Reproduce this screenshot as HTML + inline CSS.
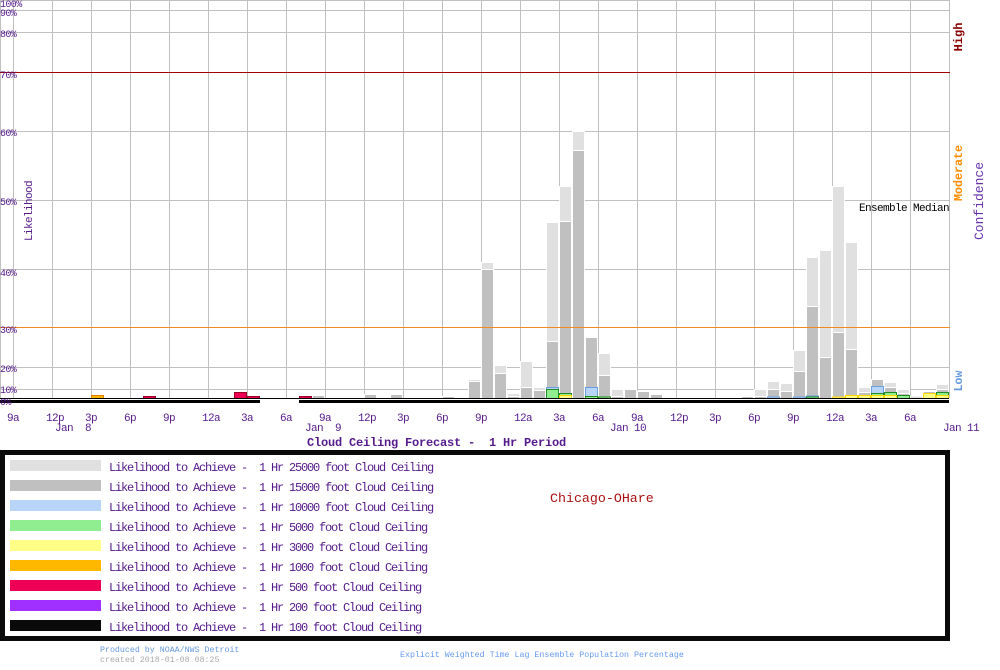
<!DOCTYPE html>
<html><head><meta charset="utf-8"><style>
html,body{margin:0;padding:0;background:#fff;}
svg{display:block;}
text{font-family:"Liberation Mono",monospace;white-space:pre;}
.L{fill:#e0e0e0;stroke:#fff;stroke-width:1}
.G{fill:#c0c0c0;stroke:#fff;stroke-width:1}
.B{fill:#b8d4f8;stroke:#6a9ee0;stroke-width:1}
.Gr{fill:#90ee90;stroke:#228b22;stroke-width:1}
.Y{fill:#ffff88;stroke:#ffd700;stroke-width:1}
.O{fill:#ffb800;stroke:#e08000;stroke-width:1}
.R{fill:#ee0055;stroke:#990022;stroke-width:1}
.yl{font-size:10px;letter-spacing:-0.6px;fill:#551a8b;}
.xl{font-size:11px;letter-spacing:-0.6px;fill:#551a8b;text-anchor:middle;}
.xj{font-size:11px;letter-spacing:-0.6px;fill:#551a8b;}
.lg{font-size:12px;letter-spacing:-1.2px;fill:#551a8b;}
</style></head><body>
<svg width="1000" height="670" viewBox="0 0 1000 670" xmlns="http://www.w3.org/2000/svg">
<rect width="1000" height="670" fill="#fff"/>
<g stroke="#c0c0c0" stroke-width="1">
<line x1="0.5" y1="0" x2="0.5" y2="398"/>
<line x1="13.5" y1="0" x2="13.5" y2="398"/>
<line x1="52.5" y1="0" x2="52.5" y2="398"/>
<line x1="91.5" y1="0" x2="91.5" y2="398"/>
<line x1="130.5" y1="0" x2="130.5" y2="398"/>
<line x1="169.5" y1="0" x2="169.5" y2="398"/>
<line x1="208.5" y1="0" x2="208.5" y2="398"/>
<line x1="247.5" y1="0" x2="247.5" y2="398"/>
<line x1="286.5" y1="0" x2="286.5" y2="398"/>
<line x1="325.5" y1="0" x2="325.5" y2="398"/>
<line x1="364.5" y1="0" x2="364.5" y2="398"/>
<line x1="403.5" y1="0" x2="403.5" y2="398"/>
<line x1="442.5" y1="0" x2="442.5" y2="398"/>
<line x1="481.5" y1="0" x2="481.5" y2="398"/>
<line x1="520.5" y1="0" x2="520.5" y2="398"/>
<line x1="559.5" y1="0" x2="559.5" y2="398"/>
<line x1="598.5" y1="0" x2="598.5" y2="398"/>
<line x1="637.5" y1="0" x2="637.5" y2="398"/>
<line x1="676.5" y1="0" x2="676.5" y2="398"/>
<line x1="715.5" y1="0" x2="715.5" y2="398"/>
<line x1="754.5" y1="0" x2="754.5" y2="398"/>
<line x1="793.5" y1="0" x2="793.5" y2="398"/>
<line x1="832.5" y1="0" x2="832.5" y2="398"/>
<line x1="871.5" y1="0" x2="871.5" y2="398"/>
<line x1="910.5" y1="0" x2="910.5" y2="398"/>
<line x1="949.5" y1="0" x2="949.5" y2="398"/>
<line x1="0" y1="0.5" x2="950" y2="0.5"/>
<line x1="0" y1="10.5" x2="950" y2="10.5"/>
<line x1="0" y1="32.5" x2="950" y2="32.5"/>
<line x1="0" y1="131.5" x2="950" y2="131.5"/>
<line x1="0" y1="200.5" x2="950" y2="200.5"/>
<line x1="0" y1="269.5" x2="950" y2="269.5"/>
<line x1="0" y1="367.5" x2="950" y2="367.5"/>
<line x1="0" y1="389.5" x2="950" y2="389.5"/>
</g>

<g>
<rect class="O" x="91.5" y="395.5" width="12" height="3"/>
<rect class="R" x="143.5" y="396.5" width="12" height="2"/>
<rect class="R" x="234.5" y="392.5" width="12" height="6"/>
<rect class="R" x="247.5" y="396.5" width="12" height="2"/>
<rect class="R" x="299.5" y="396.5" width="12" height="2"/>
<rect class="G" x="312.5" y="395.5" width="12" height="3"/>
<rect class="G" x="364.5" y="394.5" width="12" height="4"/>
<rect class="G" x="390.5" y="394.5" width="12" height="4"/>
<rect class="G" x="442.5" y="396.5" width="12" height="2"/>
<rect class="L" x="468.5" y="379.5" width="12" height="19"/>
<rect class="G" x="468.5" y="381.5" width="12" height="17"/>
<rect class="L" x="481.5" y="262.5" width="12" height="136"/>
<rect class="G" x="481.5" y="269.5" width="12" height="129"/>
<rect class="L" x="494.5" y="365.5" width="12" height="33"/>
<rect class="G" x="494.5" y="373.5" width="12" height="25"/>
<rect class="L" x="507.5" y="393.5" width="12" height="5"/>
<rect class="G" x="507.5" y="396.5" width="12" height="2"/>
<rect class="L" x="520.5" y="361.5" width="12" height="37"/>
<rect class="G" x="520.5" y="387.5" width="12" height="11"/>
<rect class="L" x="533.5" y="387.5" width="12" height="11"/>
<rect class="G" x="533.5" y="390.5" width="12" height="8"/>
<rect class="L" x="546.5" y="222.5" width="12" height="176"/>
<rect class="G" x="546.5" y="341.5" width="12" height="57"/>
<rect class="B" x="546.5" y="387.5" width="12" height="11"/>
<rect class="Gr" x="546.5" y="389.5" width="12" height="9"/>
<rect class="L" x="559.5" y="186.5" width="12" height="212"/>
<rect class="G" x="559.5" y="221.5" width="12" height="177"/>
<rect class="Gr" x="559.5" y="393.5" width="12" height="5"/>
<rect class="Y" x="559.5" y="395.5" width="12" height="3"/>
<rect class="L" x="572.5" y="131.5" width="12" height="267"/>
<rect class="G" x="572.5" y="150.5" width="12" height="248"/>
<rect class="G" x="585.5" y="337.5" width="12" height="61"/>
<rect class="B" x="585.5" y="387.5" width="12" height="11"/>
<rect class="Gr" x="585.5" y="396.5" width="12" height="2"/>
<rect class="L" x="598.5" y="353.5" width="12" height="45"/>
<rect class="G" x="598.5" y="375.5" width="12" height="23"/>
<rect class="Gr" x="598.5" y="397" width="12" height="1.5"/>
<rect class="L" x="611.5" y="389.5" width="12" height="9"/>
<rect class="G" x="611.5" y="396.5" width="12" height="2"/>
<rect class="G" x="624.5" y="389.5" width="12" height="9"/>
<rect class="G" x="637.5" y="391.5" width="12" height="7"/>
<rect class="G" x="650.5" y="394.5" width="12" height="4"/>
<rect class="G" x="741.5" y="396.5" width="12" height="2"/>
<rect class="L" x="754.5" y="389.5" width="12" height="9"/>
<rect class="G" x="754.5" y="396.5" width="12" height="2"/>
<rect class="L" x="767.5" y="381.5" width="12" height="17"/>
<rect class="G" x="767.5" y="389.5" width="12" height="9"/>
<rect class="B" x="767.5" y="397" width="12" height="1.5"/>
<rect class="L" x="780.5" y="383.5" width="12" height="15"/>
<rect class="G" x="780.5" y="391.5" width="12" height="7"/>
<rect class="L" x="793.5" y="350.5" width="12" height="48"/>
<rect class="G" x="793.5" y="371.5" width="12" height="27"/>
<rect class="B" x="793.5" y="397" width="12" height="1.5"/>
<rect class="L" x="806.5" y="257.5" width="12" height="141"/>
<rect class="G" x="806.5" y="306.5" width="12" height="92"/>
<rect class="B" x="806.5" y="396" width="12" height="2.5"/>
<rect class="Gr" x="806.5" y="397" width="12" height="1.5"/>
<rect class="L" x="819.5" y="250.5" width="12" height="148"/>
<rect class="G" x="819.5" y="357.5" width="12" height="41"/>
<rect class="L" x="832.5" y="186.5" width="12" height="212"/>
<rect class="G" x="832.5" y="332.5" width="12" height="66"/>
<rect class="Y" x="832.5" y="397" width="12" height="1.5"/>
<rect class="L" x="845.5" y="242.5" width="12" height="156"/>
<rect class="G" x="845.5" y="349.5" width="12" height="49"/>
<rect class="Y" x="845.5" y="395.5" width="12" height="3"/>
<rect class="L" x="858.5" y="387.5" width="12" height="11"/>
<rect class="G" x="858.5" y="392.5" width="12" height="6"/>
<rect class="Y" x="858.5" y="395.5" width="12" height="3"/>
<rect class="G" x="871.5" y="379.5" width="12" height="19"/>
<rect class="B" x="871.5" y="386.5" width="12" height="12"/>
<rect class="Gr" x="871.5" y="393.5" width="12" height="5"/>
<rect class="Y" x="871.5" y="395.5" width="12" height="3"/>
<rect class="L" x="884.5" y="382.5" width="12" height="16"/>
<rect class="G" x="884.5" y="387.5" width="12" height="11"/>
<rect class="Gr" x="884.5" y="392.5" width="12" height="6"/>
<rect class="Y" x="884.5" y="395.5" width="12" height="3"/>
<rect class="L" x="897.5" y="389.5" width="12" height="9"/>
<rect class="G" x="897.5" y="393.5" width="12" height="5"/>
<rect class="Gr" x="897.5" y="395.5" width="12" height="3"/>
<rect class="L" x="910.5" y="396" width="12" height="2.5"/>
<rect class="L" x="923.5" y="390.5" width="12" height="8"/>
<rect class="G" x="923.5" y="391.5" width="12" height="7"/>
<rect class="Y" x="923.5" y="393.5" width="12" height="5"/>
<rect class="L" x="936.5" y="384.5" width="12" height="14"/>
<rect class="G" x="936.5" y="389.5" width="12" height="9"/>
<rect class="Gr" x="936.5" y="392.5" width="12" height="6"/>
<rect class="Y" x="936.5" y="395.5" width="12" height="3"/>
</g>

<line x1="0" y1="72.5" x2="950" y2="72.5" stroke="#a00000" stroke-width="1"/>
<line x1="0" y1="327.5" x2="950" y2="327.5" stroke="#f08c1e" stroke-width="1"/>

<rect x="0" y="398" width="949" height="1" fill="#000"/>
<rect x="0" y="400" width="260" height="3" fill="#000"/>
<rect x="299" y="400" width="650" height="3" fill="#000"/>

<text class="yl" x="0" y="7">100%</text>
<text class="yl" x="0" y="16">90%</text>
<text class="yl" x="0" y="37">80%</text>
<text class="yl" x="0" y="78">70%</text>
<text class="yl" x="0" y="136">60%</text>
<text class="yl" x="0" y="205">50%</text>
<text class="yl" x="0" y="276">40%</text>
<text class="yl" x="0" y="333">30%</text>
<text class="yl" x="0" y="372">20%</text>
<text class="yl" x="0" y="393">10%</text>
<text class="yl" x="0" y="405">0%</text>

<text class="xl" x="13" y="421">9a</text>
<text class="xl" x="55" y="421">12p</text>
<text class="xl" x="91" y="421">3p</text>
<text class="xl" x="130" y="421">6p</text>
<text class="xl" x="169" y="421">9p</text>
<text class="xl" x="211" y="421">12a</text>
<text class="xl" x="247" y="421">3a</text>
<text class="xl" x="286" y="421">6a</text>
<text class="xl" x="325" y="421">9a</text>
<text class="xl" x="367" y="421">12p</text>
<text class="xl" x="403" y="421">3p</text>
<text class="xl" x="442" y="421">6p</text>
<text class="xl" x="481" y="421">9p</text>
<text class="xl" x="523" y="421">12a</text>
<text class="xl" x="559" y="421">3a</text>
<text class="xl" x="598" y="421">6a</text>
<text class="xl" x="637" y="421">9a</text>
<text class="xl" x="679" y="421">12p</text>
<text class="xl" x="715" y="421">3p</text>
<text class="xl" x="754" y="421">6p</text>
<text class="xl" x="793" y="421">9p</text>
<text class="xl" x="835" y="421">12a</text>
<text class="xl" x="871" y="421">3a</text>
<text class="xl" x="910" y="421">6a</text>
<text class="xj" x="55" y="431">Jan  8</text>
<text class="xj" x="305" y="431">Jan  9</text>
<text class="xj" x="610" y="431">Jan 10</text>
<text class="xj" x="943" y="431">Jan 11</text>

<text x="307" y="446" style="font-size:12px;letter-spacing:-0.2px;font-weight:bold;fill:#551a8b;">Cloud Ceiling Forecast -  1 Hr Period</text>

<text transform="translate(32,211) rotate(-90)" style="font-size:11px;letter-spacing:-0.6px;fill:#551a8b;text-anchor:middle;">Likelihood</text>
<text transform="translate(962,37) rotate(-90)" style="font-size:12px;font-weight:bold;fill:#8b0000;text-anchor:middle;">High</text>
<text transform="translate(962,173) rotate(-90)" style="font-size:11.7px;font-weight:bold;fill:#ff8c00;text-anchor:middle;">Moderate</text>
<text transform="translate(962,381) rotate(-90)" style="font-size:11.5px;font-weight:bold;fill:#6699dd;text-anchor:middle;">Low</text>
<text transform="translate(983,201) rotate(-90)" style="font-size:13px;fill:#6633aa;text-anchor:middle;">Confidence</text>

<text x="859" y="211" style="font-size:11px;letter-spacing:-0.6px;fill:#000;">Ensemble Median</text>

<rect x="2.5" y="452.5" width="945" height="186" fill="#fff" stroke="#0a0a0a" stroke-width="5"/>
<rect x="10" y="460" width="91" height="11" fill="#e0e0e0"/>
<rect x="10" y="480" width="91" height="11" fill="#c0c0c0"/>
<rect x="10" y="500" width="91" height="11" fill="#b8d4f8"/>
<rect x="10" y="520" width="91" height="11" fill="#90ee90"/>
<rect x="10" y="540" width="91" height="11" fill="#ffff88"/>
<rect x="10" y="560" width="91" height="11" fill="#ffb800"/>
<rect x="10" y="580" width="91" height="11" fill="#ee0055"/>
<rect x="10" y="600" width="91" height="11" fill="#9f30ff"/>
<rect x="10" y="620" width="91" height="11" fill="#0a0a0a"/>
<text class="lg" x="109" y="471">Likelihood to Achieve -  1 Hr 25000 foot Cloud Ceiling</text>
<text class="lg" x="109" y="491">Likelihood to Achieve -  1 Hr 15000 foot Cloud Ceiling</text>
<text class="lg" x="109" y="511">Likelihood to Achieve -  1 Hr 10000 foot Cloud Ceiling</text>
<text class="lg" x="109" y="531">Likelihood to Achieve -  1 Hr 5000 foot Cloud Ceiling</text>
<text class="lg" x="109" y="551">Likelihood to Achieve -  1 Hr 3000 foot Cloud Ceiling</text>
<text class="lg" x="109" y="571">Likelihood to Achieve -  1 Hr 1000 foot Cloud Ceiling</text>
<text class="lg" x="109" y="591">Likelihood to Achieve -  1 Hr 500 foot Cloud Ceiling</text>
<text class="lg" x="109" y="611">Likelihood to Achieve -  1 Hr 200 foot Cloud Ceiling</text>
<text class="lg" x="109" y="631">Likelihood to Achieve -  1 Hr 100 foot Cloud Ceiling</text>
<text x="550" y="502" style="font-size:13.3px;fill:#aa1111;">Chicago-OHare</text>

<text x="100" y="652" style="font-size:8.3px;fill:#6699dd;">Produced by NOAA/NWS Detroit</text>
<text x="100" y="662" style="font-size:8.3px;fill:#aaaaaa;">created 2018-01-08 08:25</text>
<text x="400" y="657" style="font-size:8.3px;fill:#6699ee;">Explicit Weighted Time Lag Ensemble Population Percentage</text>
</svg>
</body></html>
